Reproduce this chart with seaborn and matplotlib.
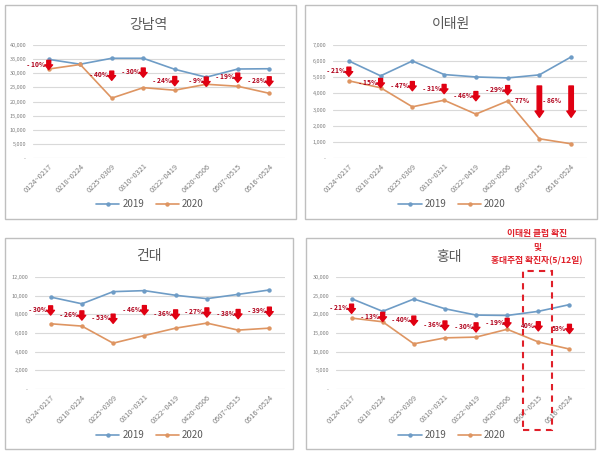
import numpy as np
import pandas as pd
import matplotlib
matplotlib.use("Agg")
import matplotlib.pyplot as plt
import seaborn as sns
from matplotlib.ticker import FuncFormatter, MultipleLocator
from matplotlib.patches import Rectangle
from matplotlib.lines import Line2D

# ---------------- data ----------------
periods = ["0124~0217", "0218~0224", "0225~0309", "0310~0321",
           "0322~0419", "0420~0506", "0507~0515", "0516~0524"]
years = ["2019", "2020"]

gangnam_2019 = [34900, 33200, 35300, 35300, 31400, 28600, 31500, 31600]
gangnam_2020 = [31500, 33100, 21200, 24900, 24000, 26100, 25400, 22900]
gangnam_labels = ["- 10%", "", "- 40%", "- 30%", "- 24%", "- 9%", "- 19%", "- 28%"]

itaewon_2019 = [6010, 5090, 6010, 5170, 5020, 4960, 5150, 6260]
itaewon_2020 = [4780, 4350, 3170, 3580, 2720, 3530, 1190, 880]
itaewon_labels = ["- 21%", "- 15%", "- 47%", "- 31%", "- 46%", "- 29%", "- 77%", "- 86%"]

kondae_2019 = [9850, 9130, 10430, 10540, 10040, 9680, 10140, 10610]
kondae_2020 = [6990, 6740, 4910, 5730, 6520, 7060, 6310, 6520]
kondae_labels = ["- 30%", "- 26%", "- 53%", "- 46%", "- 36%", "- 27%", "- 38%", "- 39%"]

hongdae_2019 = [24200, 20800, 24100, 21500, 19800, 19700, 20800, 22600]
hongdae_2020 = [19000, 18000, 12100, 13700, 13900, 16000, 12600, 10700]
hongdae_labels = ["- 21%", "- 13%", "- 40%", "- 36%", "- 30%", "- 19%", "40%", "53%"]

note_text = "이태원 클럽 확진\n및\n홍대주점 확진자(5/12일)"

# ---------------- style ----------------
sns.set_theme(style="white")
plt.rcParams["font.family"] = ["Noto Sans CJK KR", "DejaVu Sans"]

W, H = 602, 454
fig = plt.figure(figsize=(W / 100, H / 100), dpi=100)
fig.patch.set_facecolor("white")

C19 = "#6E9CC6"
C20 = "#DE9562"
RED = "#E00012"
DRED = "#B0001A"
GRID = "#D9D9D9"
TXT = "#595959"


def fx(x):
    return x / W


def fy(y):
    return 1 - y / H


def fmt(v, _):
    return "-" if v == 0 else f"{int(v):,}"


panels = [
    dict(name="강남역", v19=gangnam_2019, v20=gangnam_2020, labels=gangnam_labels,
         border=(5, 5, 296, 219), axes=(33, 45, 285, 158), title=(148, 25), legend=(150, 204),
         ymax=40000, step=5000,
         label_y=[33200, None, 29400, 30500, 27500, 27300, 28700, 27400], long=[]),
    dict(name="이태원", v19=itaewon_2019, v20=itaewon_2020, labels=itaewon_labels,
         border=(305, 5, 597, 219), axes=(333, 45, 587, 158), title=(451, 24), legend=(452, 204),
         ymax=7000, step=1000,
         label_y=[5390, 4690, 4500, 4320, 3880, 4250, 3590, 3590], long=[6, 7]),
    dict(name="건대", v19=kondae_2019, v20=kondae_2020, labels=kondae_labels,
         border=(5, 238, 293, 449), axes=(35, 277, 285, 389), title=(149, 256), legend=(150, 435),
         ymax=12000, step=2000,
         label_y=[8500, 7960, 7610, 8530, 8070, 8280, 8110, 8360], long=[]),
    dict(name="홍대", v19=hongdae_2019, v20=hongdae_2020, labels=hongdae_labels,
         border=(306, 238, 595, 449), axes=(336, 277, 585, 389), title=(449, 257), legend=(452, 435),
         ymax=30000, step=5000,
         label_y=[21700, 19500, 18500, 17200, 16700, 17900, 17000, 16300], long=[]),
]

for p in panels:
    bx0, by0, bx1, by1 = p["border"]
    fig.add_artist(Rectangle((fx(bx0), fy(by1)), fx(bx1 - bx0), (by1 - by0) / H,
                             transform=fig.transFigure, fill=False, ec="#BFBFBF", lw=1.0))
    ax0, ay0, ax1, ay1 = p["axes"]
    ax = fig.add_axes([fx(ax0), fy(ay1), fx(ax1 - ax0), (ay1 - ay0) / H])
    ax.set_facecolor("none")

    df = pd.DataFrame({
        "period": periods * 2,
        "value": list(p["v19"]) + list(p["v20"]),
        "year": ["2019"] * len(periods) + ["2020"] * len(periods),
    })
    sns.lineplot(data=df, x="period", y="value", hue="year", palette=[C19, C20],
                 marker="o", markersize=3.2, markeredgewidth=0, linewidth=1.2,
                 sort=False, ax=ax, legend=False, zorder=3)

    ax.set_xlim(-0.5, len(periods) - 0.5)
    ax.set_ylim(0, p["ymax"])
    ax.yaxis.set_major_locator(MultipleLocator(p["step"]))
    ax.yaxis.set_major_formatter(FuncFormatter(fmt))
    ax.grid(axis="y", color=GRID, lw=0.8)
    ax.grid(axis="x", visible=False)
    for s in ax.spines.values():
        s.set_visible(False)
    ax.set_xlabel("")
    ax.set_ylabel("")
    ax.tick_params(axis="y", length=0, pad=5, labelsize=4, labelcolor="#7F7F7F")
    ax.tick_params(axis="x", length=0, pad=3, labelsize=5.3, labelcolor="#7F7F7F")
    ax.set_xticks(range(len(periods)))
    ax.set_xticklabels(periods, rotation=45, ha="right", rotation_mode="anchor")

    dpp = p["ymax"] / (ay1 - ay0)
    for i, (lab, ly) in enumerate(zip(p["labels"], p["label_y"])):
        if ly is None or lab == "":
            continue
        if i in p["long"]:
            top, tip = 4460, 2520
            ax.annotate("", xy=(i, tip), xytext=(i, top),
                        arrowprops=dict(arrowstyle="simple,head_length=0.45,head_width=0.62,tail_width=0.32",
                                        color=RED, shrinkA=0, shrinkB=0, mutation_scale=10), zorder=5)
            ax.text(i - 0.33, ly, lab, ha="right", va="center", fontsize=4.8,
                    color=DRED, fontweight="bold", zorder=5)
        else:
            ax.annotate("", xy=(i, ly - 5.4 * dpp), xytext=(i, ly + 3.8 * dpp),
                        arrowprops=dict(arrowstyle="simple,head_length=0.34,head_width=0.55,tail_width=0.28",
                                        color=RED, shrinkA=0, shrinkB=0, mutation_scale=10), zorder=5)
            ax.text(i - 0.1, ly, lab, ha="right", va="center", fontsize=4.8,
                    color=DRED, fontweight="bold", zorder=5)

    tx, ty = p["title"]
    fig.text(fx(tx), fy(ty), p["name"], ha="center", va="center", fontsize=10, color=TXT)

    handles = [Line2D([], [], color=C19, marker="o", markersize=3.2, markeredgewidth=0, lw=1.2),
               Line2D([], [], color=C20, marker="o", markersize=3.2, markeredgewidth=0, lw=1.2)]
    lx, ly_ = p["legend"]
    leg = fig.legend(handles, years, loc="center", bbox_to_anchor=(fx(lx), fy(ly_)),
                     bbox_transform=fig.transFigure, ncol=2, frameon=False, fontsize=7,
                     handlelength=2.4, columnspacing=1.2, handletextpad=0.3)
    for t in leg.get_texts():
        t.set_color(TXT)

fig.text(fx(537), fy(247), note_text, ha="center", va="center", fontsize=6.3,
         color="#E0202A", fontweight="bold", linespacing=1.7)
fig.add_artist(Rectangle((fx(523), fy(430)), fx(552 - 523), (430 - 271) / H,
                         transform=fig.transFigure, fill=False, ec="#E0202A",
                         lw=1.5, ls=(0, (3, 2.5))))

fig.savefig("out.png", dpi=100, facecolor="white")
